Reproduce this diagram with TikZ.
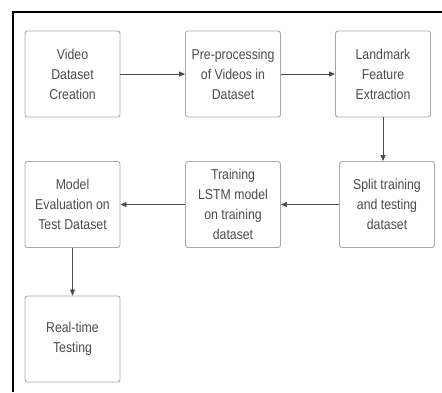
\documentclass[tikz,border=0pt]{standalone}
\usepackage{fontspec}
\setmainfont[FakeStretch=0.86]{Liberation Sans}
\usetikzlibrary{arrows.meta}

\definecolor{boxline}{RGB}{170,170,170}
\definecolor{boxtext}{RGB}{75,75,75}
\definecolor{arrowline}{RGB}{75,75,75}

\tikzset{every picture/.style={line width=0.75pt}}
\tikzset{
  stagebox/.style={draw=boxline, rounded corners=2.5pt, line width=0.9pt,
    minimum width=95pt, minimum height=86pt, inner sep=2pt,
    align=center, text=boxtext,
    font=\fontsize{14.3}{20}\selectfont},
  flowarrow/.style={draw=arrowline, line width=0.7pt,
    -{Triangle[length=6pt,width=5pt]}}
}

\begin{document}
\begin{tikzpicture}[x=1pt,y=1pt,yscale=-1,xscale=1]
    \useasboundingbox (0,0) rectangle (442,392);

    %Frame
    \draw [line width=2pt] (13,392) -- (13,12) -- (442,12) ;

    %Shape: Rectangle [top row]
    \node [stagebox] (video) at (72.5,74) {Video\\Dataset\\Creation};
    \node [stagebox] (prep) at (233,74) {Pre-processing\\of Videos in\\Dataset};
    \node [stagebox] (landmark) at (383,74) {Landmark\\Feature\\Extraction};

    %Shape: Rectangle [middle row]
    \node [stagebox] (eval) at (72.5,204.5) {Model\\Evaluation on\\Test Dataset};
    \node [stagebox] (train) at (233,204.5) {Training\\LSTM model\\on training\\dataset};
    \node [stagebox] (split) at (387,204.5) {Split training\\and testing\\dataset};

    %Shape: Rectangle [bottom row]
    \node [stagebox] (realtime) at (72.5,339) {Real-time\\Testing};

    %Straight Lines
    \draw [flowarrow] (video) -- (prep) ;
    \draw [flowarrow] (prep) -- (landmark) ;
    \draw [flowarrow] (landmark.south) -- (landmark.south |- split.north) ;
    \draw [flowarrow] (split) -- (train) ;
    \draw [flowarrow] (train) -- (eval) ;
    \draw [flowarrow] (eval) -- (realtime) ;

\end{tikzpicture}
\end{document}
